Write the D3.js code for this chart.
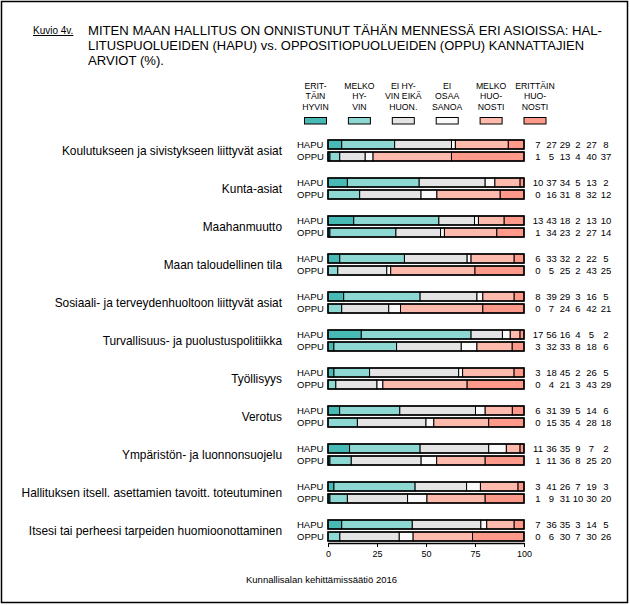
<!DOCTYPE html>
<html><head><meta charset="utf-8">
<script src="https://cdn.jsdelivr.net/npm/d3@7"></script>
<style>body{margin:0;background:#fff}svg{display:block}text{font-family:"Liberation Sans",Arial,sans-serif;fill:#000}</style>
</head><body><svg id="c" width="630" height="605"></svg>
<script>
const categories = ["Koulutukseen ja sivistykseen liittyvät asiat","Kunta-asiat","Maahanmuutto","Maan taloudellinen tila","Sosiaali- ja terveydenhuoltoon liittyvät asiat","Turvallisuus- ja puolustuspolitiikka","Työllisyys","Verotus","Ympäristön- ja luonnonsuojelu","Hallituksen itsell. asettamien tavoitt. toteutuminen","Itsesi tai perheesi tarpeiden huomioonottaminen"];
const groups = ["HAPU","OPPU"];
const responseLabels = [["ERIT-","TÄIN","HYVIN"],["MELKO","HY-","VIN"],["EI HY-","VIN EIKÄ","HUON."],["EI","OSAA","SANOA"],["MELKO","HUO-","NOSTI"],["ERITTÄIN","HUO-","NOSTI"]];
const colors = ["#48bab5","#8dd8d3","#e4e4e4","#fafafa","#ffbaae","#ff998a"];
const hapu = [[7,27,29,2,27,8],[10,37,34,5,13,2],[13,43,18,2,13,10],[6,33,32,2,22,5],[8,39,29,3,16,5],[17,56,16,4,5,2],[3,18,45,2,26,5],[6,31,39,5,14,6],[11,36,35,9,7,2],[3,41,26,7,19,3],[7,36,35,3,14,5]];
const oppu = [[1,5,13,4,40,37],[0,16,31,8,32,12],[1,34,23,2,27,14],[0,5,25,2,43,25],[0,7,24,6,42,21],[3,32,33,8,18,6],[0,4,21,3,43,29],[0,15,35,4,28,18],[1,11,36,8,25,20],[1,9,31,10,30,20],[0,6,30,7,30,26]];
const ticks = [0,25,50,75,100];

const svg = d3.select("#c");
svg.append("rect").attr("x",1.5).attr("y",1.5).attr("width",626).attr("height",601).attr("fill","none").attr("stroke","#000").attr("stroke-width",1.5);

// title
svg.append("text").attr("x",33).attr("y",34).attr("font-size",10).attr("text-decoration","underline").text("Kuvio 4v.");
const titleLines = ["MITEN MAAN HALLITUS ON ONNISTUNUT TÄHÄN MENNESSÄ ERI ASIOISSA: HAL-","LITUSPUOLUEIDEN (HAPU) vs. OPPOSITIOPUOLUEIDEN (OPPU) KANNATTAJIEN","ARVIOT (%)."];
const tl = [514, 496, 76];
titleLines.forEach((t,i)=>{
  svg.append("text").attr("x",88).attr("y",35+i*15).attr("font-size",13).attr("textLength",tl[i]).attr("lengthAdjust","spacingAndGlyphs").text(t);
});

const x = d3.scaleLinear().domain([0,100]).range([328,524]);
const y = d3.scaleBand().domain(categories).range([140,140+38*categories.length]).paddingInner(0).paddingOuter(0);
const legX = d3.scaleLinear().domain([0,5]).range([315.5,535]);

// legend
responseLabels.forEach((lines,i)=>{
  lines.forEach((l,j)=>{
    svg.append("text").attr("x",legX(i)).attr("y",88.5+j*10.5).attr("font-size",8.7).attr("text-anchor","middle").text(l);
  });
  svg.append("rect").attr("x",legX(i)-11).attr("y",117.5).attr("width",22).attr("height",6.5).attr("fill",colors[i]).attr("stroke","#000").attr("stroke-width",1);
});

const numX = [538,551.5,565,578,591.5,606];

categories.forEach((cat,ci)=>{
  const top = y(cat);
  svg.append("text").attr("x",282).attr("y",top+14.5).attr("font-size",11.9).attr("text-anchor","end").text(cat);
  [hapu[ci],oppu[ci]].forEach((vals,gi)=>{
    const by = top + gi*12;
    svg.append("text").attr("x",297).attr("y",by+8.3).attr("font-size",9.5).text(groups[gi]);
    const sum = d3.sum(vals);
    let cum = 0;
    const segs = vals.map(v=>{const s={x0:cum/sum*100,x1:(cum+v)/sum*100}; cum+=v; return s;});
    svg.append("g").selectAll("rect").data(segs).join("rect")
      .attr("x",d=>x(d.x0)).attr("y",by).attr("width",d=>x(d.x1)-x(d.x0)).attr("height",9)
      .attr("fill",(d,i)=>colors[i]).attr("stroke","#000").attr("stroke-width",1);
    svg.append("rect").attr("x",x(0)).attr("y",by).attr("width",x(100)-x(0)).attr("height",9).attr("fill","none").attr("stroke","#000").attr("stroke-width",1.5);
    vals.forEach((v,k)=>{
      svg.append("text").attr("x",numX[k]).attr("y",by+8.3).attr("font-size",9.5).attr("text-anchor","middle").text(v);
    });
  });
});

// axis
const axY = 543;
const ax = svg.append("g").attr("transform",`translate(0,${axY})`).call(d3.axisBottom(x).tickValues(ticks).tickSize(4).tickSizeOuter(0));
ax.select(".domain").attr("stroke","#000").attr("stroke-width",1.5);
ax.selectAll(".tick line").attr("stroke","#000");
ax.selectAll(".tick text").attr("font-size",9).attr("font-family","Liberation Sans, Arial, sans-serif").attr("fill","#000").attr("dy","0.9em").attr("y",6);

svg.append("text").attr("x",246).attr("y",583).attr("font-size",9.5).text("Kunnallisalan kehittämissäätiö 2016");
</script></body></html>
